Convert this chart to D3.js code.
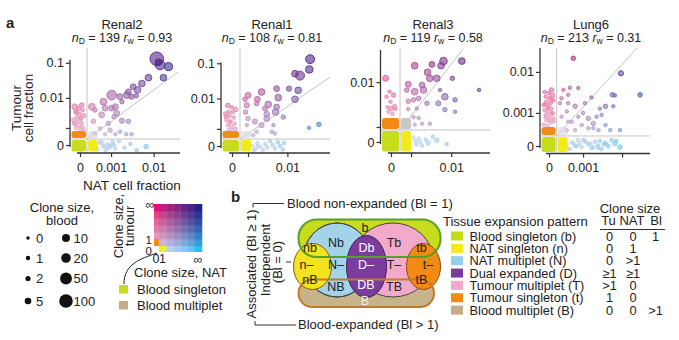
<!DOCTYPE html>
<html><head><meta charset="utf-8">
<script src="https://cdn.jsdelivr.net/npm/d3@7"></script>
<style>
html,body{margin:0;padding:0;background:#fff;}
svg{display:block;font-family:"Liberation Sans",Arial,Helvetica,sans-serif;}
</style></head><body>
<svg id="chart" width="679" height="340"></svg>
<script>
// ================= DATA =================
const panelNames = ["Renal2", "Renal1", "Renal3", "Lung6"];
const panelND = [139, 108, 119, 213];
const panelRw = ["0.93", "0.81", "0.58", "0.31"];

// each clone: [NAT cell fraction, tumour cell fraction, blood clone size]
const renal2Clones = [
  [0.0117,0.13,100],[0.0138,0.087,20],[0.021,0.078,10],[0.0127,0.104,5],[0.0163,0.038,5],
  [0.0077,0.038,5],[0.0055,0.026,5],[0.0035,0.021,3],[0.0044,0.017,5],[0.0027,0.015,3],
  [0.0025,0.012,5],[0.0017,0.0108,3],[0.00104,0.012,20],[0.0032,0.0108,2],[0.0041,0.0115,1],
  [0.0019,0.0077,1],[0.0006,0.0077,5],[0.00068,0.0049,3],[0.00104,0.0049,3],[0.0003,0.0043,1],
  [0.00022,0.0054,5],[0.00053,0.003,3],[0.0012,0.0026,1],[0.0014,0.0034,3],[0.00026,0.0018,1],
  [0.00084,0.0015,1],[0.0019,0.0019,2],[0.00047,0.00097,0],[0.00094,0.0008,1],[0.0017,0.00068,0],
  [0.0032,0.0005,0],[0.0024,0.0005,0],[0.00068,0.0005,0],[0.0013,0.0005,0],[0.0003,0.00056,0],
  [0.0013,0.0054,3],[0.0027,0.0018,1],
  [0.0068,0,1],[0.0042,0,0],[0.003,0,0],[0.0022,0,0],[0.0016,0,0],[0.00104,0,0],[0.00076,0,0],
  [0.00053,0,0],[0.00094,0,0],[0.0004,0,0],[0.0005,0,0],[0.0006,0,0],[0.0007,0,0],[0.0008,0,0],
  [0.0009,0,0],[0.0011,0,0],[0.0012,0,0],[0.0013,0,0],[0.00045,0,0],[0.00065,0,0],
  [0,0.0061,1],[0,0.0054,3],[0,0.0048,1],[0,0.0043,0],[0,0.0037,1],[0,0.0032,0],[0,0.0028,1],
  [0,0.0025,0],[0,0.0022,0],[0,0.002,1],[0,0.0018,0],[0,0.0016,0],[0,0.0014,0],[0,0.0013,1],
  [0,0.0011,0],[0,0.001,0],[0,0.0009,0],[0,0.0008,0],[0,0.0035,0],[0,0.0024,0],[0,0.0015,0]
];
const renal1Clones = [
  [0.0284,0.13,15],[0.0274,0.067,8],[0.0143,0.051,5],[0.018,0.045,15],[0.0166,0.0172,5],
  [0.0143,0.0095,5],[0.0108,0.0192,2],[0.0059,0.0192,3],[0.0064,0.0106,5],[0.0026,0.0154,5],
  [0.002,0.0095,3],[0.001,0.0124,3],[0.00076,0.0095,1],[0.0019,0.0071,1],[0.0038,0.0067,5],
  [0.0059,0.0056,3],[0.0056,0.0039,5],[0.0035,0.0033,3],[0.0035,0.0024,3],[0.0026,0.0014,2],
  [0.0017,0.0019,2],[0.001,0.0024,1],[0.0008,0.0039,1],[0.0009,0.0014,0],[0.005,0.0014,0],
  [0.0054,0.00062,0],[0.0019,0.00075,0],[0.0015,0.0005,0],[0.027,0.0011,0],[0.042,0.0015,1],
  [0.0009,0.0063,2],[0.0032,0.005,2],[0.0082,0.0027,1],[0.0046,0.00075,0],
  [0.0014,0,0],[0.0017,0,0],[0.002,0,0],[0.0024,0,0],[0.0028,0,0],[0.0032,0,0],[0.0036,0,0],
  [0.0042,0,0],[0.0048,0,0],[0.0054,0,0],[0.0063,0,0],[0.007,0,0],[0.008,0,0],[0.0086,0,0],
  [0.002,0,0],[0.0016,0,0],
  [0,0.0063,1],[0,0.0055,0],[0,0.0047,1],[0,0.004,0],[0,0.0039,0],[0,0.0034,1],[0,0.003,0],
  [0,0.0026,0],[0,0.0022,1],[0,0.0019,0],[0,0.0016,0],[0,0.0014,0],[0,0.0012,1],[0,0.001,0],
  [0,0.0009,0],[0,0.0008,0],[0,0.0028,0],[0,0.0018,0]
];
const renal3Clones = [
  [0.0168,0.022,5],[0.0068,0.022,8],[0.006,0.0186,5],[0.0037,0.0195,3],[0.0013,0.0186,5],
  [0.0029,0.0146,5],[0.0033,0.0116,5],[0.0048,0.0116,5],[0.0106,0.0116,1],[0.0021,0.0089,3],
  [0.0023,0.0073,5],[0.0013,0.0068,5],[0.0008,0.0092,3],[0.0007,0.0073,1],[0.0012,0.0048,1],
  [0.0073,0.0055,5],[0.0121,0.0048,1],[0.0052,0.0041,2],[0.0028,0.0041,1],[0.0073,0.003,1],
  [0.0121,0.0027,0],[0.0383,0.0073,0],[0.0057,0.0073,0],[0.0015,0.0032,0],[0.0008,0.0031,0],
  [0.0033,0.0013,0],[0.0017,0.0019,0],[0.0013,0.0012,0],[0.0008,0.0045,1],[0.0017,0.0051,1],
  [0.0007,0.0015,1],[0.0021,0.0013,0],[0.0012,0.002,0],
  [0.0012,0,0],[0.0014,0,0],[0.0015,0,0],[0.0017,0,0],[0.0019,0,0],[0.0021,0,0],[0.0026,0,0],
  [0.003,0,1],[0.0039,0,0],[0.0048,0,1],[0.008,0,0],
  [0,0.0116,3],[0,0.0068,0],[0,0.0059,1],[0,0.0055,0],[0,0.0044,0],[0,0.0035,1],[0,0.0034,0],
  [0,0.0032,1],[0,0.0031,0],[0,0.0027,0],[0,0.0024,0]
];
const lung6Clones = [
  [0.00051,0.0205,1],[0.0094,0.0093,2],[0.0274,0.0029,1],[0.0058,0.0029,1],[0.0067,0.0028,0],
  [0.0039,0.0015,1],[0.0061,0.0015,0],[0.0028,0.0013,0],[0.0017,0.0025,0],[0.00039,0.0043,0],
  [0.00073,0.0042,0],[0.00034,0.0029,0],[0.00058,0.0015,1],[0.00113,0.0018,0],[0.00015,0.0018,0],
  [0.0003,0.0011,0],[0.00073,0.00078,0],[0.0014,0.0007,1],[0.0019,0.00049,1],[0.00092,0.00043,0],
  [0.00045,0.00055,0],[0.00018,0.00078,0],[0.0031,0.00088,0],[0.0051,0.00028,0],[0.0089,0.00028,0],
  [0.0026,0.00028,0],[0.0014,0.00033,0],[0.00058,0.00028,0],[0.0003,0.00028,0],[0.001,0.001,0],
  [0.0023,0.00078,0],[0.0019,0.00033,0],[0.0039,0.00043,0],[0.00034,0.00055,0],[0.00022,0.0038,0],
  [0.00018,0.0024,0],[0.00034,0.0018,0],
  [0.0003,0,0],[0.0004,0,0],[0.0005,0,0],[0.00058,0,0],[0.0007,0,0],[0.0008,0,0],[0.00092,0,0],
  [0.0011,0,0],[0.0014,0,0],[0.0017,0,0],[0.0021,0,0],[0.0025,0,0],[0.0031,0,0],[0.0038,0,0],
  [0.0046,0,0],[0.0055,0,0],[0.0067,0,1],[0.0089,0,1],[0.0072,0,0],[0.0035,0,0],[0.0026,0,0],
  [0.0012,0,0],[0.0006,0,0],[0.00035,0,0],[0.00045,0,0],[0.00065,0,0],[0.001,0,0],[0.0016,0,0],
  [0.0019,0,0],[0.0028,0,0],[0.0042,0,0],
  [0,0.0038,1],[0,0.0034,0],[0,0.0032,0],[0,0.0028,1],[0,0.0026,0],[0,0.0024,0],[0,0.0021,0],
  [0,0.0019,1],[0,0.0018,0],[0,0.0016,0],[0,0.0014,0],[0,0.0013,0],[0,0.0012,0],[0,0.0011,1],
  [0,0.001,0],[0,0.0009,0],[0,0.0008,0],[0,0.0007,0],[0,0.0006,0],[0,0.00052,0],[0,0.00045,0],[0,0.0004,0],
  [0,0.0022,0],[0,0.0017,0],[0,0.0015,0],[0,0.00095,0],[0,0.00075,0],[0,0.00065,0],[0,0.00056,0]
];
const panelClones = [renal2Clones, renal1Clones, renal3Clones, lung6Clones];

const natMax = [0.037, 0.0686, 0.064, 0.0475];
const tuMax = [0.12, 0.105, 0.0328, 0.035];
const natTicks = [[0, 0.001, 0.01], [0, 0.001, 0.01], [0, 0.001, 0.01], [0, 0.001, 0.01]];
const natTickLabels = [["0", "0.001", "0.01"], ["0", "", "0.01"], ["0", "", "0.01"], ["0", "0.001", ""]];
const tuTicks = [[0, 0.001, 0.01, 0.1], [0, 0.001, 0.01, 0.1], [0, 0.001, 0.01], [0, 0.001, 0.01]];
const tuTickLabels = [["0", "", "0.01", "0.1"], ["0", "", "0.01", "0.1"], ["0", "", "0.01"], ["0", "0.001", "0.01"]];
// thresholds separating zero from one-cell clones, and end of the identity line
const zeroLineNat = [0.000115, 0.000414, 0.00034, 0.000095];
const zeroLineTu = [0.000236, 0.00028, 0.00076, 0.00015];
const diagEnd = [[0.0338, 0.055], [0.0686, 0.0408], [0.0179, 0.034], [0.0231, 0.035]];

const bloodLegend = [0, 1, 2, 5, 10, 20, 50, 100];

const patternLabels = ["Blood singleton (b)", "NAT singleton (n)", "NAT multiplet (N)", "Dual expanded (D)",
  "Tumour multiplet (T)", "Tumour singleton (t)", "Blood multiplet (B)"];
const patternTu = ["0", "0", "0", "\u22651", ">1", "1", "0"];
const patternNat = ["0", "1", ">1", "\u22651", "0", "0", "0"];
const patternBl = ["1", "", "", "", "", "", ">1"];
const patternColors = ["#c6dc16", "#f2ea1c", "#96cde9", "#7a3a9e", "#f2a8ca", "#f28a18", "#c2ad84"];

const vennLabels = ["b", "Nb", "Db", "Tb", "nb", "tb", "n\u2013", "N\u2013", "D\u2013", "T\u2013", "t\u2013", "nB", "NB", "DB", "TB", "tB", "B"];

// ================= LAYOUT =================
const layout = [
  {ax: 70, ay: 153, x0: 80, x1: 180, y0: 145, y1: 60, xc: 0.00028, yc: 0.0005, tc: 122, oh: 7, grayStrong: false},
  {ax: 221, ay: 153, x0: 232, x1: 330, y0: 146, y1: 62.5, xc: 0.001, yc: 0.0005, tc: 272, oh: 7, grayStrong: false},
  {ax: 380.5, ay: 153, x0: 391, x1: 490, y0: 142, y1: 50, xc: 0.00065, yc: 0.0015, tc: 433, oh: 11, grayStrong: true},
  {ax: 540, ay: 153.5, x0: 549, x1: 650, y0: 146, y1: 48, xc: 0.00018, yc: 0.00022, tc: 591, oh: 8, grayStrong: false}
];

const svg = d3.select("#chart");
const INK = "#222";

const cPale = "#d6d4ea", cNatHi = "#22c2f0", cTuHi = "#e20e7a", cBoth = "#1c2486";
function cmap(tx, ty) {
  tx = Math.max(0, Math.min(1, tx)); ty = Math.max(0, Math.min(1, ty));
  const b = Math.pow(ty, 0.75);
  const bottom = d3.interpolateLab(cPale, cNatHi)(Math.pow(tx, 1.15));
  const top = d3.interpolateLab(cTuHi, cBoth)(Math.pow(tx, 0.8));
  return d3.interpolateLab(bottom, top)(b);
}
const rScale = d3.scaleSymlog().constant(2).domain([0, 100]).range([1.7, 6.8]);
const jit = i => ((i * 37) % 11) / 10 * 2 - 1;

svg.append("text").attr("x", 6).attr("y", 28).attr("font-size", 15).attr("font-weight", "bold").attr("fill", INK).text("a");

layout.forEach((P, i) => {
  const xs = d3.scaleSymlog().constant(P.xc).domain([0, natMax[i]]).range([P.x0, P.x1]);
  const ys = d3.scaleSymlog().constant(P.yc).domain([0, tuMax[i]]).range([P.y0, P.y1]);
  const g = svg.append("g");

  g.append("text").attr("x", P.tc).attr("y", 29).attr("text-anchor", "middle")
    .attr("font-size", 13).attr("fill", INK).text(panelNames[i]);
  const st = g.append("text").attr("x", P.tc).attr("y", 41.5).attr("text-anchor", "middle")
    .attr("font-size", 12.5).attr("fill", INK);
  st.append("tspan").attr("font-style", "italic").text("n");
  st.append("tspan").attr("font-size", 8.5).attr("dy", 2.5).text("D");
  st.append("tspan").attr("dy", -2.5).text(" = " + panelND[i] + " ");
  st.append("tspan").attr("font-style", "italic").text("r");
  st.append("tspan").attr("font-size", 8.5).attr("dy", 2.5).text("w");
  st.append("tspan").attr("dy", -2.5).text(" = " + panelRw[i]);

  const gx = xs(zeroLineNat[i]), gy = ys(zeroLineTu[i]);
  const grey = "#c4c4c4";
  g.append("line").attr("x1", gx).attr("x2", gx).attr("y1", 48).attr("y2", P.ay).attr("stroke", grey).attr("stroke-width", 1);
  g.append("line").attr("x1", P.ax).attr("x2", P.x1).attr("y1", gy).attr("y2", gy).attr("stroke", grey).attr("stroke-width", 1);
  g.append("line").attr("x1", gx).attr("y1", gy).attr("x2", xs(diagEnd[i][0])).attr("y2", ys(diagEnd[i][1]))
    .attr("stroke", grey).attr("stroke-width", 1);

  const bandX = (P.ax + 1.5 + gx - 1) / 2, bandY = (gy + 1 + P.ay - 1.5) / 2;
  const pts = panelClones[i].map((d, k) => {
    const cx = d[0] === 0 ? bandX + jit(k) * 5 : xs(d[0]);
    const cy = d[1] === 0 ? bandY + jit(k + 3) * 4.5 : ys(d[1]);
    const tx = (xs(d[0]) - P.x0) / (P.x1 - P.x0);
    const ty = (P.y0 - ys(d[1])) / (P.y0 - P.y1);
    return {cx, cy, r: rScale(d[2]), col: cmap(tx, ty), b: d[2]};
  }).sort((a, b) => b.b - a.b);

  g.append("g").selectAll("circle").data(pts).join("circle")
    .attr("cx", d => d.cx).attr("cy", d => d.cy).attr("r", d => d.r)
    .attr("fill", d => d.col).attr("fill-opacity", 0.6)
    .attr("stroke", d => d.col).attr("stroke-opacity", 0.9).attr("stroke-width", 1);

  // singleton blocks
  const bx0 = P.ax + 1.5, bx1 = gx - 1;
  g.append("rect").attr("x", bx0).attr("y", gy + 1).attr("width", bx1 - bx0).attr("height", P.ay - 1.5 - gy - 1)
    .attr("rx", 2.5).attr("fill", "#c6dc1c");
  g.append("rect").attr("x", gx + 1).attr("y", gy + 1).attr("width", 10).attr("height", P.ay - 1.5 - gy - 1)
    .attr("rx", 2.5).attr("fill", "#f3ea1a");
  g.append("rect").attr("x", bx0).attr("y", gy - 1 - P.oh).attr("width", bx1 - bx0).attr("height", P.oh)
    .attr("rx", 2.5).attr("fill", "#f28a16");
  g.append("rect").attr("x", gx + 1).attr("y", gy - 1 - P.oh).attr("width", 10).attr("height", P.oh)
    .attr("rx", 2.5).attr("fill", P.grayStrong ? "#c8c8c8" : "#d6d2e2").attr("fill-opacity", P.grayStrong ? 1 : 0.6);

  // axes
  const yAxis = d3.axisLeft(ys).tickValues(tuTicks[i]).tickFormat((d, k) => tuTickLabels[i][k])
    .tickSize(4).tickPadding(2).tickSizeOuter(0);
  const ya = g.append("g").attr("transform", `translate(${P.ax},0)`).call(yAxis);
  const xAxis = d3.axisBottom(xs).tickValues(natTicks[i]).tickFormat((d, k) => natTickLabels[i][k])
    .tickSize(4).tickPadding(6).tickSizeOuter(0);
  const xa = g.append("g").attr("transform", `translate(0,${P.ay})`).call(xAxis);
  [ya, xa].forEach(a => {
    a.select(".domain").remove();
    a.selectAll(".tick line").attr("stroke", "#333").attr("stroke-width", 1.2);
    a.selectAll(".tick text").attr("font-size", 12.5).attr("fill", INK).attr("font-family", "Liberation Sans, Arial, sans-serif");
  });
  g.append("line").attr("x1", P.ax).attr("x2", P.ax).attr("y1", ys(0) + 2).attr("y2", P.y1)
    .attr("stroke", "#333").attr("stroke-width", 1.3);
  g.append("line").attr("x1", xs(0) - 3).attr("x2", P.x1).attr("y1", P.ay).attr("y2", P.ay)
    .attr("stroke", "#333").attr("stroke-width", 1.3);
});

// axis titles
svg.append("text").attr("transform", "translate(21,108) rotate(-90)").attr("text-anchor", "middle")
  .attr("font-size", 13.5).attr("fill", INK).text("Tumour");
svg.append("text").attr("transform", "translate(33,108) rotate(-90)").attr("text-anchor", "middle")
  .attr("font-size", 13.5).attr("fill", INK).text("cell fraction");
svg.append("text").attr("x", 132).attr("y", 190).attr("text-anchor", "middle")
  .attr("font-size", 13.5).attr("fill", INK).text("NAT cell fraction");

// ===== blood size legend =====
svg.append("text").attr("x", 62).attr("y", 212).attr("text-anchor", "middle").attr("font-size", 13).attr("fill", INK).text("Clone size,");
svg.append("text").attr("x", 62).attr("y", 225).attr("text-anchor", "middle").attr("font-size", 13).attr("fill", INK).text("blood");
const legRows = [238, 258, 278.5, 301];
bloodLegend.forEach((v, k) => {
  const col = k < 4 ? 0 : 1, row = k % 4;
  const cx = col ? 66 : 28, y = legRows[row];
  svg.append("circle").attr("cx", cx).attr("cy", y).attr("r", rScale(v)).attr("fill", "#111");
  svg.append("text").attr("x", cx + (col ? 7.5 : 8)).attr("y", y + 4.5).attr("font-size", 13).attr("fill", INK).text(v);
});

// ===== colour map legend =====
const gx0 = 159, gx1 = 202, gy0 = 204, gy1 = 246, nC = 6;
const cw = (gx1 - gx0) / nC, ch = (gy1 - gy0) / nC;
for (let a = 0; a < nC; a++) for (let b = 0; b < nC; b++) {
  svg.append("rect").attr("x", gx0 + a * cw).attr("y", gy1 - (b + 1) * ch).attr("width", cw + 0.3).attr("height", ch + 0.3)
    .attr("fill", cmap(0.12 + 0.88 * a / (nC - 1), 0.12 + 0.88 * b / (nC - 1)));
}
for (let b = 1; b < nC; b++) {
  svg.append("rect").attr("x", 154).attr("y", gy1 - (b + 1) * ch).attr("width", 5).attr("height", ch + 0.3)
    .attr("fill", cmap(0, 0.12 + 0.88 * b / (nC - 1)));
}
for (let a = 1; a < nC; a++) {
  svg.append("rect").attr("x", gx0 + a * cw).attr("y", gy1).attr("width", cw + 0.3).attr("height", 6)
    .attr("fill", cmap(0.12 + 0.88 * a / (nC - 1), 0));
}
svg.append("rect").attr("x", 154).attr("y", gy1 - ch).attr("width", 5).attr("height", ch).attr("fill", "#f28a16");
svg.append("rect").attr("x", gx0).attr("y", gy1).attr("width", cw).attr("height", 6).attr("fill", "#eaf01a");
const sm = (x, y, t, anchor, fs) => svg.append("text").attr("x", x).attr("y", y).attr("font-size", fs || 12.5)
  .attr("text-anchor", anchor || "middle").attr("fill", INK).text(t);
sm(150, 209, "\u221E"); sm(152, 244, "1", "end", 11.5); sm(152, 254.5, "0", "end", 11.5);
sm(156, 263, "0"); sm(162.5, 263, "1"); sm(198, 264, "\u221E");
svg.append("text").attr("transform", "translate(123,226) rotate(-90)").attr("text-anchor", "middle")
  .attr("font-size", 13).attr("fill", INK).text("Clone size,");
svg.append("text").attr("transform", "translate(134,226) rotate(-90)").attr("text-anchor", "middle")
  .attr("font-size", 13).attr("fill", INK).text("tumour");
svg.append("text").attr("x", 134).attr("y", 277).attr("font-size", 13).attr("fill", INK).text("Clone size, NAT");
svg.append("path").attr("d", "M157,253 C140,259 124,264 124,284").attr("fill", "none").attr("stroke", "#222").attr("stroke-width", 1);
svg.append("rect").attr("x", 119).attr("y", 285).attr("width", 9).attr("height", 8.5).attr("fill", "#c6dc1c");
svg.append("text").attr("x", 137).attr("y", 293.5).attr("font-size", 13).attr("fill", INK).text("Blood singleton");
svg.append("rect").attr("x", 119).attr("y", 301).attr("width", 9).attr("height", 8.5).attr("fill", "#c2ad84");
svg.append("text").attr("x", 137).attr("y", 309.5).attr("font-size", 13).attr("fill", INK).text("Blood multiplet");

// ===== panel b =====
svg.append("text").attr("x", 231).attr("y", 202).attr("font-size", 15).attr("font-weight", "bold").attr("fill", INK).text("b");
const ln = (x1, y1, x2, y2) => svg.append("line").attr("x1", x1).attr("y1", y1).attr("x2", x2).attr("y2", y2)
  .attr("stroke", "#333").attr("stroke-width", 1);
ln(253, 203.5, 284, 203.5); ln(253, 203.5, 253, 207.5);
ln(255, 325, 296, 325); ln(255, 325, 255, 321);
ln(286, 262, 291, 262);
svg.append("text").attr("x", 287).attr("y", 208).attr("font-size", 13).attr("fill", INK).text("Blood non-expanded (Bl = 1)");
svg.append("text").attr("x", 298).attr("y", 329).attr("font-size", 13).attr("fill", INK).text("Blood-expanded (Bl > 1)");
svg.append("text").attr("transform", "translate(256,264) rotate(-90)").attr("text-anchor", "middle")
  .attr("font-size", 13).attr("fill", INK).text("Associated (Bl \u2265 1)");
svg.append("text").attr("transform", "translate(270,260) rotate(-90)").attr("text-anchor", "middle")
  .attr("font-size", 13).attr("fill", INK).text("Independent");
svg.append("text").attr("transform", "translate(282,262) rotate(-90)").attr("text-anchor", "middle")
  .attr("font-size", 13).attr("fill", INK).text("(Bl = 0)");

const vb = svg.append("g");
const E = {N: [337, 260, 34, 37], T: [393, 260, 40, 37], D: [366.5, 266.5, 20, 31], n: [312.5, 266.5, 19, 23], t: [423.5, 266.5, 17, 23]};
const ell = (k, fill, stroke, sw) => vb.append("ellipse").attr("cx", E[k][0]).attr("cy", E[k][1]).attr("rx", E[k][2]).attr("ry", E[k][3])
  .attr("fill", fill).attr("stroke", stroke).attr("stroke-width", sw || 1);
vb.append("rect").attr("x", 298.5).attr("y", 219.5).attr("width", 142).attr("height", 37.5).attr("rx", 18).attr("fill", "#c6dc1c");
vb.append("rect").attr("x", 298.5).attr("y", 279.5).attr("width", 135.5).attr("height", 27.5).attr("rx", 14).attr("fill", "#c8b48a");
ell("N", "#a3d2e9", "#444");
ell("T", "#f2aacb", "#444");
ell("N", "none", "#444");
ell("D", "#7c3c9e", "#3a2050");
ell("n", "#f3e21e", "#8a5a18");
ell("t", "#f28a14", "#8a4a10");
vb.append("rect").attr("x", 298.5).attr("y", 219.5).attr("width", 142).attr("height", 37.5).attr("rx", 18).attr("fill", "none").attr("stroke", "#55a02c").attr("stroke-width", 2);
vb.append("rect").attr("x", 298.5).attr("y", 279.5).attr("width", 135.5).attr("height", 27.5).attr("rx", 14).attr("fill", "none").attr("stroke", "#c27a2a").attr("stroke-width", 2);

const vennPos = [[365, 232], [336, 247], [366.5, 252], [394, 247], [310, 252], [421.5, 252],
  [306.5, 268.5], [336, 268.5], [366, 268.5], [394, 268.5], [428, 268.5],
  [310, 284], [336, 291], [366, 288.5], [394, 291], [421.5, 284], [365, 304.5]];
const whiteLabels = new Set(["Db", "D\u2013", "DB", "B"]);
vennLabels.forEach((t, k) => {
  vb.append("text").attr("x", vennPos[k][0]).attr("y", vennPos[k][1]).attr("text-anchor", "middle")
    .attr("font-size", 12.5).attr("fill", whiteLabels.has(t) ? (t === "B" ? "#f4eee4" : "#fff") : INK).text(t);
});

// ===== pattern legend table =====
svg.append("text").attr("x", 443).attr("y", 226).attr("font-size", 13).attr("fill", INK).text("Tissue expansion pattern");
svg.append("text").attr("x", 630).attr("y", 212.5).attr("text-anchor", "middle").attr("font-size", 13).attr("fill", INK).text("Clone size");
[["Tu", 608.5], ["NAT", 632], ["Bl", 656]].forEach(h =>
  svg.append("text").attr("x", h[1]).attr("y", 225).attr("text-anchor", "middle").attr("font-size", 13).attr("fill", INK).text(h[0]));
ln(600, 229.5, 665, 229.5);
patternLabels.forEach((t, k) => {
  const cy = 236 + k * 12.35;
  svg.append("rect").attr("x", 451).attr("y", cy - 4.5).attr("width", 12).attr("height", 9).attr("fill", patternColors[k]);
  svg.append("text").attr("x", 469.5).attr("y", cy + 4.5).attr("font-size", 12.8).attr("fill", INK).text(t);
  [[patternTu[k], 609.5], [patternNat[k], 633], [patternBl[k], 655.5]].forEach(v =>
    svg.append("text").attr("x", v[1]).attr("y", cy + 4.5).attr("text-anchor", "middle").attr("font-size", 12.8).attr("fill", INK).text(v[0]));
});
</script>
</body></html>
